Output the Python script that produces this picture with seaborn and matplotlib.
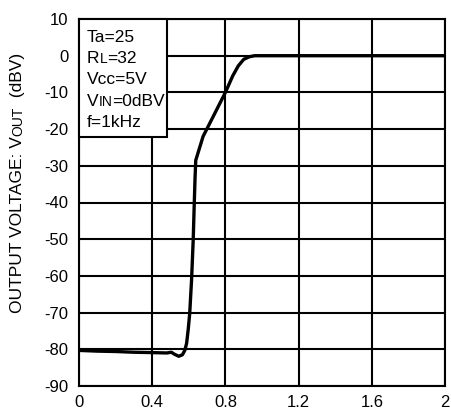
import matplotlib
matplotlib.use("Agg")
import matplotlib.pyplot as plt
import seaborn as sns
import pandas as pd
from matplotlib.patches import Rectangle

sns.set_theme(style="white")
plt.rcParams["font.family"] = ["Liberation Sans", "DejaVu Sans"]

# Curve data
x_vals = [0.0, 0.1, 0.2, 0.3, 0.4, 0.48, 0.505, 0.52, 0.545, 0.565, 0.578, 0.588,
          0.597, 0.605, 0.615, 0.624, 0.630, 0.634, 0.638, 0.678, 0.733, 0.80,
          0.84, 0.87, 0.90, 0.93, 0.96, 1.0, 1.5, 2.0]
y_vals = [-80.3, -80.5, -80.6, -80.8, -80.9, -81.0, -80.8, -81.3, -81.9, -81.5, -80.3, -78.4,
          -74.5, -70.2, -61.2, -50.3, -40.0, -33.5, -28.5, -22.0, -16.6, -10.0,
          -5.5, -2.8, -1.0, -0.3, 0.0, 0.0, 0.0, 0.0]
x_ticks = [0, 0.4, 0.8, 1.2, 1.6, 2.0]
x_tick_labels = ["0", "0.4", "0.8", "1.2", "1.6", "2"]
y_ticks = [10, 0, -10, -20, -30, -40, -50, -60, -70, -80, -90]

W, H = 451, 412
fig = plt.figure(figsize=(W / 100, H / 100), dpi=100)
ax = fig.add_axes([79 / W, 1 - 386 / H, (445 - 79) / W, (386 - 19) / H])

df = pd.DataFrame({"x": x_vals, "y": y_vals})
sns.lineplot(data=df, x="x", y="y", color="black", linewidth=2.4, ax=ax, zorder=5)

ax.set_xlim(0, 2)
ax.set_ylim(-90, 10)
ax.set_xticks(x_ticks)
ax.set_xticklabels(x_tick_labels)
ax.set_yticks(y_ticks)
ax.set_yticklabels([str(v) for v in y_ticks])
ax.tick_params(axis="both", length=0, labelsize=12, colors="black")
ax.tick_params(axis="y", pad=7.5)
ax.tick_params(axis="x", pad=6.5)
ax.grid(True, color="black", linewidth=1.5)
for s in ax.spines.values():
    s.set_color("black")
    s.set_linewidth(1.5)
ax.set_xlabel("")
ax.set_ylabel("")


def px(x, y):
    return (x / W, 1 - y / H)


def chain(pieces, x, y):
    # pieces: list of (text, size); draws them side by side on a common baseline
    prev = ax.text(*px(x, y), pieces[0][0], fontsize=pieces[0][1], transform=fig.transFigure,
                   ha="left", va="baseline", color="black", zorder=10)
    for txt, size in pieces[1:]:
        prev = ax.annotate(txt, xy=(1, 0), xycoords=prev, fontsize=size,
                           ha="left", va="bottom", color="black",
                           annotation_clip=False, zorder=10)


# condition box
box = Rectangle(px(79, 137.3), (166.7 - 79) / W, (137.3 - 19) / H,
                transform=fig.transFigure, facecolor="white", edgecolor="black",
                linewidth=1.5, zorder=8, clip_on=False)
ax.add_patch(box)

SZ, SM = 12.5, 10
lines = [
    [("Ta=25", SZ)],
    [("R", SZ), ("L", SM), ("=32", SZ)],
    [("Vcc=5V", SZ)],
    [("V", SZ), ("IN", SM), ("=0dBV", SZ)],
    [("f=1kHz", SZ)],
]
baselines = [41.7, 63.0, 84.3, 105.6, 126.9]
for pieces, b in zip(lines, baselines):
    chain(pieces, 87.0, b)

# rotated y label in pieces
lab = fig.text(*px(25, 313), "OUTPUT VOLTAGE: V", fontsize=SZ, rotation=90,
               ha="right", va="bottom", color="black")
p2 = ax.annotate("OUT", xy=(1, 1), xycoords=lab, fontsize=SM, rotation=90,
                 ha="right", va="bottom", color="black", annotation_clip=False)
ax.annotate("  (dBV)", xy=(1, 1), xycoords=p2, fontsize=SZ, rotation=90,
            ha="right", va="bottom", color="black", annotation_clip=False)

plt.savefig("out.png", dpi=100)
